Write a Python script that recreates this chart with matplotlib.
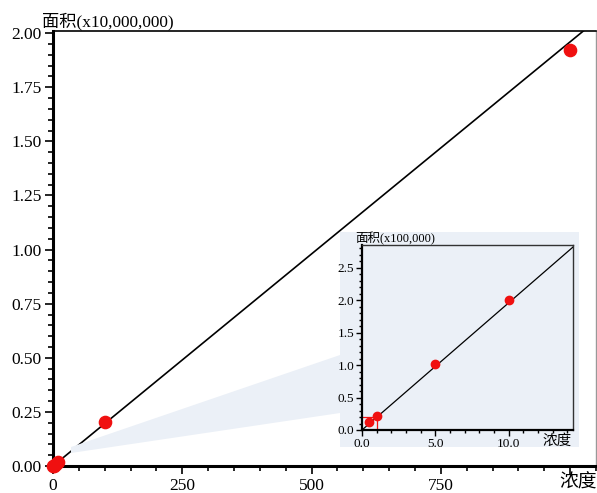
import matplotlib
matplotlib.use("Agg")
import matplotlib.pyplot as plt
import numpy as np
from matplotlib.ticker import MultipleLocator, FixedLocator
from matplotlib.patches import Polygon, Rectangle

# ---- data ----
concentration = [0.5, 1.0, 5.0, 10.0, 100.0, 1000.0]
area = [1.2e4, 2.2e4, 1.02e5, 2.0e5, 2.02e6, 1.92e7]
fit_slope = 19600.0
fit_intercept = 0.0
main_xticks = [0, 250, 500, 750, 1000]
main_xticklabels = ["0", "250", "500", "750", ""]
main_yticks = [0.0, 0.25, 0.5, 0.75, 1.0, 1.25, 1.5, 1.75, 2.0]
main_yticklabels = ["0.00", "0.25", "0.50", "0.75", "1.00", "1.25", "1.50", "1.75", "2.00"]
inset_xticks = [0.0, 5.0, 10.0]
inset_xticklabels = ["0.0", "5.0", "10.0"]
inset_yticks = [0.0, 0.5, 1.0, 1.5, 2.0, 2.5]
inset_yticklabels = ["0.0", "0.5", "1.0", "1.5", "2.0", "2.5"]
main_scale = 1e7
inset_scale = 1e5
subzoom_x = 1.0
subzoom_y = 0.2

FAM = ["Liberation Serif", "Noto Sans CJK SC"]
plt.rcParams["font.family"] = FAM

W, H = 597, 493
fig = plt.figure(figsize=(W / 100, H / 100), dpi=100)

def fx(px):
    return px / W

def fy(py):
    return 1 - py / H

panel_color = "#ebf0f7"
red = "#f01010"

# ---- main axes ----
ax = fig.add_axes([fx(53), fy(466), fx(596) - fx(53), fy(31) - fy(466)])
x = np.array(concentration)
y = np.array(area) / main_scale
xmax = 1050
ymax = 2.01
ax.set_xlim(0, xmax)
ax.set_ylim(0, ymax)
xl = np.linspace(0, xmax, 400)
yl = (fit_slope * xl + fit_intercept) / main_scale
ax.plot(xl, yl, color="black", lw=1.2, zorder=3)
ax.plot(x, y, "o", color=red, ms=8.8, mec=red, clip_on=False, zorder=4)

ax.xaxis.set_major_locator(FixedLocator(main_xticks))
ax.set_xticklabels(main_xticklabels)
ax.xaxis.set_minor_locator(MultipleLocator(50))
ax.yaxis.set_major_locator(FixedLocator(main_yticks))
ax.set_yticklabels(main_yticklabels)
ax.yaxis.set_minor_locator(MultipleLocator(0.05))
ax.tick_params(axis="both", which="major", direction="out", length=6, width=1.2,
               labelsize=12.5, pad=2)
ax.tick_params(axis="both", which="minor", direction="out", length=3.5, width=1.2)
ax.tick_params(axis="x", which="major", pad=3)
for s in ["left", "bottom"]:
    ax.spines[s].set_linewidth(2.2)
ax.spines["top"].set_linewidth(1.2)
ax.spines["right"].set_color("#999999")
ax.spines["right"].set_linewidth(1.0)

fig.text(fx(42), fy(30), "面积(x10,000,000)", fontsize=12.4, ha="left", va="bottom",
         family=FAM)
fig.text(fx(578), fy(483), "浓度", fontsize=13.5, ha="center", va="center", family=FAM)

# ---- connector polygon ----
poly = Polygon([(fx(71), fy(447)), (fx(71), fy(453)), (fx(340), fy(413)), (fx(340), fy(355))],
               closed=True, transform=fig.transFigure, facecolor=panel_color,
               edgecolor="none", zorder=1)
fig.patches.append(poly)

# ---- inset panel ----
panel = Rectangle((fx(340), fy(447)), fx(579) - fx(340), fy(232) - fy(447),
                  transform=fig.transFigure, facecolor=panel_color, edgecolor="none",
                  zorder=1)
fig.patches.append(panel)

axi = fig.add_axes([fx(362), fy(430), fx(573) - fx(362), fy(245) - fy(430)])
axi.set_zorder(5)
axi.set_facecolor(panel_color)
ixmax = 14.38
iymax = 2.85
axi.set_xlim(0, ixmax)
axi.set_ylim(0, iymax)
xi = np.linspace(0, ixmax, 200)
axi.plot(xi, (fit_slope * xi + fit_intercept) / inset_scale, color="black", lw=0.9, zorder=3)
mask = x <= ixmax
axi.plot(x[mask], np.array(area)[mask] / inset_scale, "o", color=red, mec=red, ms=6,
         zorder=4)
axi.plot([0, subzoom_x, subzoom_x], [subzoom_y, subzoom_y, 0], color=red, lw=0.9, zorder=2)

axi.xaxis.set_major_locator(FixedLocator(inset_xticks))
axi.set_xticklabels(inset_xticklabels)
axi.xaxis.set_minor_locator(MultipleLocator(1.0))
axi.yaxis.set_major_locator(FixedLocator(inset_yticks))
axi.set_yticklabels(inset_yticklabels)
axi.yaxis.set_minor_locator(MultipleLocator(0.1))
axi.tick_params(axis="both", which="major", direction="out", length=4, width=1.0,
                labelsize=9.5, pad=1.5)
axi.tick_params(axis="both", which="minor", direction="out", length=2, width=1.0)
for s in ["left", "bottom"]:
    axi.spines[s].set_linewidth(1.6)
for s in ["top", "right"]:
    axi.spines[s].set_linewidth(1.0)
    axi.spines[s].set_color("#333333")

fig.text(fx(355), fy(245), "面积(x100,000)", fontsize=9, ha="left", va="bottom",
         family=FAM, zorder=6)
fig.text(fx(557), fy(441), "浓度", fontsize=10.5, ha="center", va="center", family=FAM,
         zorder=6)

fig.savefig("out.png", dpi=100)
